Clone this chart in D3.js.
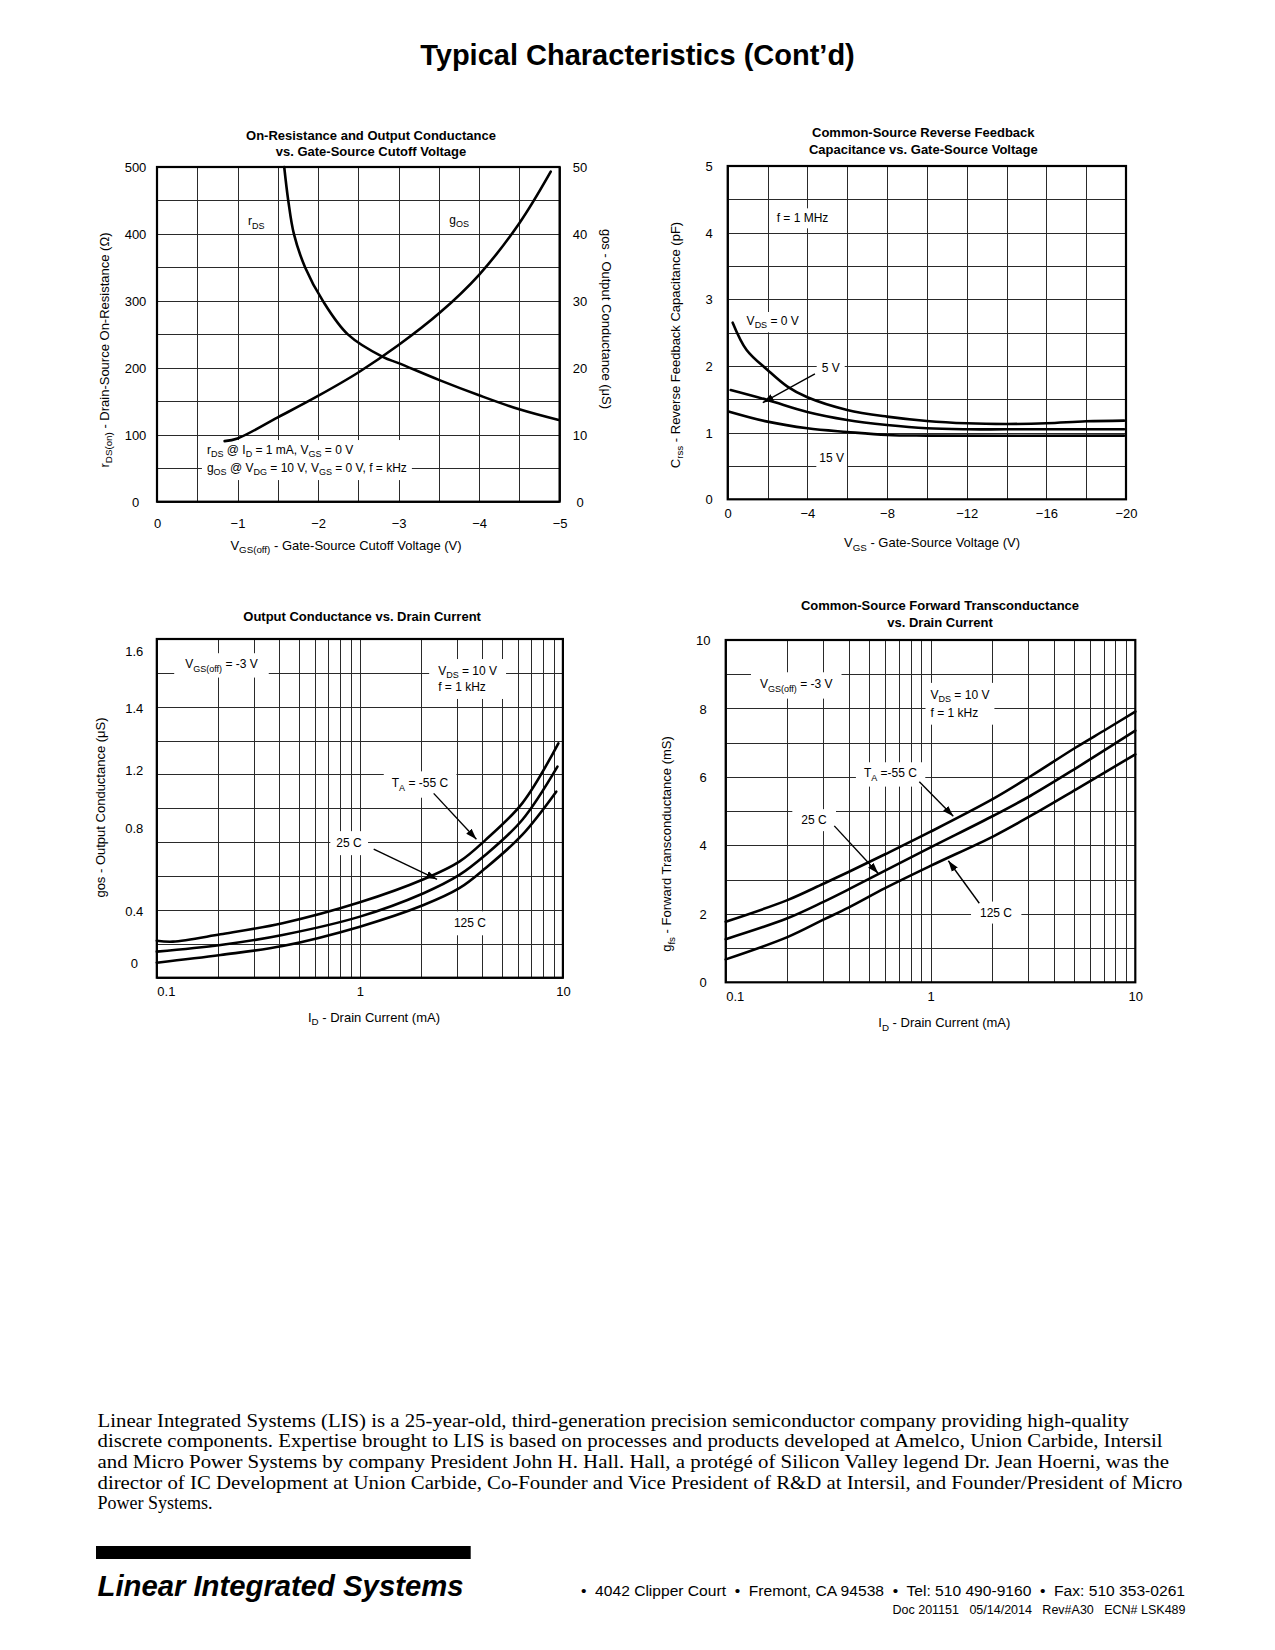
<!DOCTYPE html>
<html><head><meta charset="utf-8"><title>Typical Characteristics (Cont’d)</title>
<script src="https://cdn.jsdelivr.net/npm/d3@7"></script>
<style>html,body{margin:0;padding:0;background:#fff}svg{display:block}</style>
</head><body>
<script>
// ================= DATA =================
// Chart 1: On-Resistance and Output Conductance vs. Gate-Source Cutoff Voltage
const c1XTicks = [0, -1, -2, -3, -4, -5];
const c1LeftTicks = [0, 100, 200, 300, 400, 500];
const c1RightTicks = [0, 10, 20, 30, 40, 50];
const rdsVgsoff = [-1.58, -1.63, -1.70, -1.84, -2.06, -2.37, -2.81, -3.0, -3.5, -4.0, -4.5, -4.99];
const rdsOhms   = [500, 450, 400, 350, 300, 250, 216, 207, 182, 159, 138, 122];
const gosVgsoff = [-0.84, -1.0, -1.5, -2.0, -2.5, -3.0, -3.5, -4.0, -4.5, -4.89];
const gosMicroS = [9.05, 9.45, 12.6, 15.8, 19.3, 23.4, 28.1, 33.9, 41.6, 49.3];

// Chart 2: Common-Source Reverse Feedback Capacitance vs. Gate-Source Voltage
const c2XTicks = [0, -4, -8, -12, -16, -20];
const c2YTicks = [0, 1, 2, 3, 4, 5];
const crssVgs0V  = [-0.25, -0.95, -2, -3, -4, -6, -8, -10, -12, -14, -16, -18, -19.9];
const crss0V     = [2.65, 2.24, 1.94, 1.69, 1.53, 1.34, 1.24, 1.175, 1.14, 1.13, 1.14, 1.17, 1.18];
const crssVgs5V  = [-0.15, -2, -4, -6, -8, -10, -12, -14, -19.9];
const crss5V     = [1.64, 1.49, 1.31, 1.19, 1.115, 1.065, 1.05, 1.05, 1.05];
const crssVgs15V = [-0.08, -2, -4, -6, -8, -10, -19.9];
const crss15V    = [1.315, 1.165, 1.065, 1.01, 0.965, 0.955, 0.955];

// Chart 3: Output Conductance vs. Drain Current
const c3XTicks = [0.1, 1, 10];
const c3YTicks = [0, 0.4, 0.8, 1.2, 1.4, 1.6];
const gosIdM55  = [0.1, 0.12, 0.206, 0.416, 1.0, 2.06, 3.09, 4.15, 6.3, 9.5];
const gosM55    = [0.169, 0.162, 0.218, 0.303, 0.440, 0.551, 0.636, 0.740, 0.969, 1.286];
const gosId25   = [0.1, 0.206, 0.416, 1.0, 2.06, 3.09, 4.15, 6.3, 9.4];
const gos25     = [0.085, 0.136, 0.213, 0.354, 0.484, 0.572, 0.668, 0.853, 1.211];
const gosId125  = [0.1, 0.206, 0.416, 1.0, 2.06, 3.09, 4.15, 6.3, 9.27];
const gos125    = [0.0, 0.059, 0.128, 0.277, 0.427, 0.508, 0.604, 0.765, 1.05];

// Chart 4: Common-Source Forward Transconductance vs. Drain Current
const c4XTicks = [0.1, 1, 10];
const c4YTicks = [0, 2, 4, 6, 8, 10];
const gfsIdM55 = [0.1, 0.2, 0.3, 0.4, 0.6, 1.0, 2.05, 3.08, 5.12, 7.25, 10];
const gfsM55   = [1.77, 2.40, 2.88, 3.23, 3.74, 4.40, 5.38, 6.02, 6.86, 7.40, 7.91];
const gfsId25  = [0.1, 0.2, 0.3, 0.4, 0.6, 1.0, 2.05, 3.08, 5.12, 10];
const gfs25    = [1.26, 1.87, 2.35, 2.72, 3.26, 3.94, 4.88, 5.45, 6.25, 7.35];
const gfsId125 = [0.1, 0.2, 0.3, 0.4, 0.6, 1.0, 2.05, 3.08, 5.12, 10];
const gfs125   = [0.67, 1.32, 1.83, 2.19, 2.75, 3.40, 4.28, 4.86, 5.63, 6.66];

// Page texts
const pageTitle = "Typical Characteristics (Cont’d)";
const aboutLines = [
  "Linear Integrated Systems (LIS) is a 25-year-old, third-generation precision semiconductor company providing high-quality",
  "discrete components. Expertise brought to LIS is based on processes and products developed at Amelco, Union Carbide, Intersil",
  "and Micro Power Systems by company President John H. Hall. Hall, a protégé of Silicon Valley legend Dr. Jean Hoerni, was the",
  "director of IC Development at Union Carbide, Co-Founder and Vice President of R&D at Intersil, and Founder/President of Micro",
  "Power Systems."
];
const logoText = "Linear Integrated Systems";
const addressText = "•  4042 Clipper Court  •  Fremont, CA 94538  •  Tel: 510 490-9160  •  Fax: 510 353-0261";
const docText = "Doc 201151   05/14/2014   Rev#A30   ECN# LSK489";

// ================= DRAWING =================
const W = 1275, H = 1650;
const FONT = "'Liberation Sans', Arial, Helvetica, sans-serif";
const svg = d3.select("body").append("svg").attr("width", W).attr("height", H)
  .attr("font-family", FONT);
svg.append("rect").attr("width", W).attr("height", H).attr("fill", "#fff");

const defs = svg.append("defs");
defs.append("marker").attr("id", "arr").attr("viewBox", "0 0 12 8")
  .attr("refX", 12).attr("refY", 4).attr("markerWidth", 11).attr("markerHeight", 8)
  .attr("markerUnits", "userSpaceOnUse").attr("orient", "auto")
  .append("path").attr("d", "M0,0 L12,4 L0,8 Z").attr("fill", "#000");

function rich(g, x, y, parts, size, opts = {}) {
  const t = g.append("text").attr("x", x).attr("y", y).attr("font-size", size)
    .attr("text-anchor", opts.anchor || "start").attr("fill", "#000");
  if (opts.weight) t.attr("font-weight", opts.weight);
  if (opts.transform) t.attr("transform", opts.transform);
  let shifted = 0;
  parts.forEach(p => {
    const s = Array.isArray(p) ? p[0] : p;
    const sub = Array.isArray(p) && p[1] === "sub";
    const ts = t.append("tspan").text(s);
    const target = sub ? size * 0.28 : 0;
    if (target !== shifted) { ts.attr("dy", target - shifted); shifted = target; }
    if (sub) ts.attr("font-size", (size * 0.75).toFixed(2));
  });
  return t;
}

function withBg(bgLayer, textSel, padX = 4, padY = 1.5) {
  const nodes = Array.isArray(textSel) ? textSel : [textSel];
  let x0 = Infinity, y0 = Infinity, x1 = -Infinity, y1 = -Infinity;
  nodes.forEach(n => {
    const b = n.node().getBBox();
    x0 = Math.min(x0, b.x); y0 = Math.min(y0, b.y);
    x1 = Math.max(x1, b.x + b.width); y1 = Math.max(y1, b.y + b.height);
  });
  bgLayer.append("rect").attr("x", x0 - padX).attr("y", y0 - padY)
    .attr("width", x1 - x0 + 2 * padX).attr("height", y1 - y0 + 2 * padY).attr("fill", "#fff");
}

function layers() {
  const g = svg.append("g");
  return { grid: g.append("g"), bg: g.append("g"), curves: g.append("g"), text: g.append("g"), frame: g.append("g") };
}

function vGrid(g, vals, sx, y0, y1) {
  g.selectAll(null).data(vals).join("line")
    .attr("x1", d => Math.round(sx(d)) + 0.5).attr("x2", d => Math.round(sx(d)) + 0.5)
    .attr("y1", y0).attr("y2", y1).attr("stroke", "#2a2a2a").attr("stroke-width", 1);
}
function hGridPx(g, ys, x0, x1) {
  g.selectAll(null).data(ys).join("line")
    .attr("y1", d => Math.round(d) + 0.5).attr("y2", d => Math.round(d) + 0.5)
    .attr("x1", x0).attr("x2", x1).attr("stroke", "#2a2a2a").attr("stroke-width", 1);
}
function frame(g, x0, x1, y0, y1) {
  g.append("rect").attr("x", x0).attr("y", y0).attr("width", x1 - x0).attr("height", y1 - y0)
    .attr("fill", "none").attr("stroke", "#000").attr("stroke-width", 2.2);
}
function curve(g, xs, ys, sx, sy) {
  const pts = xs.map((x, i) => [sx(x), sy(ys[i])]);
  g.append("path").attr("d", d3.line().curve(d3.curveCatmullRom.alpha(0.5))(pts))
    .attr("fill", "none").attr("stroke", "#000").attr("stroke-width", 2.6)
    .attr("stroke-linecap", "round").attr("stroke-linejoin", "round");
}
function arrow(g, sx, sy, from, to) {
  g.append("line").attr("x1", sx(from[0])).attr("y1", sy(from[1]))
    .attr("x2", sx(to[0])).attr("y2", sy(to[1]))
    .attr("stroke", "#000").attr("stroke-width", 1.4).attr("marker-end", "url(#arr)");
}
function styleAxisText(a) {
  a.select(".domain").remove();
  a.selectAll(".tick line").remove();
  a.selectAll("text").attr("font-family", FONT).attr("font-size", 13).attr("fill", "#000");
}
function bottomAxis(g, sx, ticks, y, off, fmt, firstStart) {
  const a = g.append("g").attr("transform", `translate(0,${y})`)
    .call(d3.axisBottom(sx).tickValues(ticks).tickSize(0).tickFormat(fmt));
  styleAxisText(a);
  a.selectAll("text").attr("y", off).attr("dy", "0.35em");
  if (firstStart) a.selectAll("text").filter((d, i) => i === 0).attr("text-anchor", "start");
  return a;
}
function leftAxis(g, sy, ticks, x, off, fmt) {
  const a = g.append("g").attr("transform", `translate(${x},0)`)
    .call(d3.axisLeft(sy).tickValues(ticks).tickSize(0).tickFormat(fmt));
  styleAxisText(a);
  a.selectAll("text").attr("x", -off).attr("dy", "0.35em").attr("text-anchor", "middle");
  return a;
}
function rightAxis(g, sy, ticks, x, off, fmt) {
  const a = g.append("g").attr("transform", `translate(${x},0)`)
    .call(d3.axisRight(sy).tickValues(ticks).tickSize(0).tickFormat(fmt));
  styleAxisText(a);
  a.selectAll("text").attr("x", off).attr("dy", "0.35em").attr("text-anchor", "middle");
  return a;
}
function logGridValues() {
  const v = [];
  [0.1, 1].forEach(dec => { for (let k = 1; k <= 9; k++) v.push(+(k * dec).toFixed(3)); });
  v.push(10);
  return v;
}

// ---------- Page title ----------
svg.append("text").attr("x", 637.5).attr("y", 65).attr("text-anchor", "middle")
  .attr("font-size", 29).attr("font-weight", "bold").text(pageTitle);

// ---------- Chart 1 ----------
(function () {
  const L = layers();
  const x0 = 157, x1 = 559.6, y0 = 167, y1 = 501.7;
  const sx = d3.scaleLinear().domain([0, -5]).range([x0, x1]);
  const sy = d3.scaleLinear().domain([0, 500]).range([y1, y0]);
  const syR = d3.scaleLinear().domain([0, 50]).range([y1, y0]);
  vGrid(L.grid, d3.range(0, -5.01, -0.5), sx, y0, y1);
  hGridPx(L.grid, d3.range(0, 501, 50).map(sy), x0, x1);

  const t1 = rich(L.text, sx(-0.62), sy(71.2), ["r", ["DS", "sub"], " @ I", ["D", "sub"], " = 1 mA, V", ["GS", "sub"], " = 0 V"], 12);
  const t2 = rich(L.text, sx(-0.62), sy(44.8), ["g", ["OS", "sub"], " @ V", ["DG", "sub"], " = 10 V, V", ["GS", "sub"], " = 0 V, f = kHz"], 12);
  withBg(L.bg, [t1, t2], 5, 3);
  rich(L.text, sx(-1.13), sy(413), ["r", ["DS", "sub"]], 12);
  rich(L.text, sx(-3.63), sy(415.5), ["g", ["OS", "sub"]], 12);

  curve(L.curves, rdsVgsoff, rdsOhms, sx, sy);
  curve(L.curves, gosVgsoff, gosMicroS, sx, syR);
  frame(L.frame, x0, x1, y0, y1);

  bottomAxis(L.text, sx, c1XTicks, y1, 21.5, d => d3.format("d")(d));
  leftAxis(L.text, sy, c1LeftTicks, x0, 21.5, d3.format("d"));
  rightAxis(L.text, syR, c1RightTicks, x1, 20.5, d3.format("d"));

  rich(L.text, 371, 139.5, ["On-Resistance and Output Conductance"], 13, { anchor: "middle", weight: "bold" });
  rich(L.text, 371, 156, ["vs. Gate-Source Cutoff Voltage"], 13, { anchor: "middle", weight: "bold" });
  rich(L.text, 346, 549.5, ["V", ["GS(off)", "sub"], " - Gate-Source Cutoff Voltage (V)"], 13, { anchor: "middle" });
  rich(L.text, 0, 0, ["r", ["DS(on)", "sub"], " - Drain-Source On-Resistance (Ω)"], 13,
    { anchor: "middle", transform: "translate(108.8,350) rotate(-90)" });
  rich(L.text, 0, 0, ["gos - Output Conductance (μS)"], 13,
    { anchor: "middle", transform: "translate(602.3,319) rotate(90)" });
})();

// ---------- Chart 2 ----------
(function () {
  const L = layers();
  const x0 = 727.7, x1 = 1126, y0 = 166, y1 = 499.3;
  const sx = d3.scaleLinear().domain([0, -20]).range([x0, x1]);
  const sy = d3.scaleLinear().domain([0, 5]).range([y1, y0]);
  vGrid(L.grid, d3.range(0, -20.01, -2), sx, y0, y1);
  hGridPx(L.grid, d3.range(0, 5.01, 0.5).map(sy), x0, x1);

  withBg(L.bg, rich(L.text, sx(-2.46), sy(4.155), ["f = 1 MHz"], 12), 4, 3);
  withBg(L.bg, rich(L.text, sx(-0.95), sy(2.615), ["V", ["DS", "sub"], " = 0 V"], 12), 3, 2);
  withBg(L.bg, rich(L.text, sx(-4.72), sy(1.905), ["5 V"], 12), 5, 3);
  withBg(L.bg, rich(L.text, sx(-4.6), sy(0.555), ["15 V"], 12), 3, 3);

  curve(L.curves, crssVgs0V, crss0V, sx, sy);
  curve(L.curves, crssVgs5V, crss5V, sx, sy);
  curve(L.curves, crssVgs15V, crss15V, sx, sy);
  arrow(L.curves, sx, sy, [-4.38, 1.88], [-1.76, 1.45]);
  frame(L.frame, x0, x1, y0, y1);

  bottomAxis(L.text, sx, c2XTicks, y1, 14, d3.format("d"));
  leftAxis(L.text, sy, c2YTicks, x0, 18.5, d3.format("d"));

  rich(L.text, 923.3, 137.2, ["Common-Source Reverse Feedback"], 13, { anchor: "middle", weight: "bold" });
  rich(L.text, 923.3, 153.8, ["Capacitance vs. Gate-Source Voltage"], 13, { anchor: "middle", weight: "bold" });
  rich(L.text, 932, 547, ["V", ["GS", "sub"], " - Gate-Source Voltage (V)"], 13, { anchor: "middle" });
  rich(L.text, 0, 0, ["C", ["rss", "sub"], " - Reverse Feedback Capacitance (pF)"], 13,
    { anchor: "middle", transform: "translate(679.5,345) rotate(-90)" });
})();

// ---------- Chart 3 ----------
(function () {
  const L = layers();
  const x0 = 156.8, x1 = 562.9, y0 = 639, y1 = 977.7;
  const sx = d3.scaleLog().domain([0.1, 10]).range([x0, x1]);
  // the printed value labels are unevenly placed on the grid: piecewise-linear scale through them
  const labelFrac = [0.0443, 0.198, 0.443, 0.613, 0.797, 0.965];
  const sy = d3.scaleLinear().domain(c3YTicks).range(labelFrac.map(f => y1 - f * (y1 - y0)));
  vGrid(L.grid, logGridValues(), sx, y0, y1);
  hGridPx(L.grid, d3.range(0, 11).map(i => y1 - i * (y1 - y0) / 10), x0, x1);

  withBg(L.bg, rich(L.text, sx(0.138), sy(1.539), ["V", ["GS(off)", "sub"], " = -3 V"], 12), 11, 4);
  const a = rich(L.text, sx(2.43), sy(1.515), ["V", ["DS", "sub"], " = 10 V"], 12);
  const b = rich(L.text, sx(2.43), sy(1.459), ["f = 1 kHz"], 12);
  withBg(L.bg, [a, b], 9, 5);
  withBg(L.bg, rich(L.text, sx(1.436), sy(1.08), ["T", ["A", "sub"], " = -55 C"], 12), 8, 5);
  withBg(L.bg, rich(L.text, sx(0.766), sy(0.706), ["25 C"], 12), 6, 5);
  withBg(L.bg, rich(L.text, sx(2.905), sy(0.272), ["125 C"], 12), 3, 5);

  curve(L.curves, gosIdM55, gosM55, sx, sy);
  curve(L.curves, gosId25, gos25, sx, sy);
  curve(L.curves, gosId125, gos125, sx, sy);
  arrow(L.curves, sx, sy, [2.31, 1.038], [3.75, 0.744]);
  arrow(L.curves, sx, sy, [1.17, 0.696], [2.40, 0.551]);
  frame(L.frame, x0, x1, y0, y1);

  bottomAxis(L.text, sx, c3XTicks, y1, 14, d => String(d), true);
  leftAxis(L.text, sy, c3YTicks, x0, 22.5, d => d === 0 ? "0" : d3.format(".1f")(d));

  rich(L.text, 362.1, 621.2, ["Output Conductance vs. Drain Current"], 13, { anchor: "middle", weight: "bold" });
  rich(L.text, 374, 1021.5, ["I", ["D", "sub"], " - Drain Current (mA)"], 13, { anchor: "middle" });
  rich(L.text, 0, 0, ["gos - Output Conductance (μS)"], 13,
    { anchor: "middle", transform: "translate(104.9,807.5) rotate(-90)" });
})();

// ---------- Chart 4 ----------
(function () {
  const L = layers();
  const x0 = 725.7, x1 = 1135.3, y0 = 640, y1 = 982.3;
  const sx = d3.scaleLog().domain([0.1, 10]).range([x0, x1]);
  const sy = d3.scaleLinear().domain([0, 10]).range([y1, y0]);
  vGrid(L.grid, logGridValues(), sx, y0, y1);
  hGridPx(L.grid, d3.range(0, 10.01, 1).map(sy), x0, x1);

  withBg(L.bg, rich(L.text, sx(0.147), sy(8.59), ["V", ["GS(off)", "sub"], " = -3 V"], 12), 9, 5);
  const a = rich(L.text, sx(1.0), sy(8.28), ["V", ["DS", "sub"], " = 10 V"], 12);
  const b = rich(L.text, sx(1.0), sy(7.76), ["f = 1 kHz"], 12);
  withBg(L.bg, [a, b], 5, 5);
  withBg(L.bg, rich(L.text, sx(0.473), sy(5.99), ["T", ["A", "sub"], " =-55 C"], 12), 8, 4);
  withBg(L.bg, rich(L.text, sx(0.234), sy(4.62), ["25 C"], 12), 9, 4);
  withBg(L.bg, rich(L.text, sx(1.745), sy(1.92), ["125 C"], 12), 9, 4);

  curve(L.curves, gfsIdM55, gfsM55, sx, sy);
  curve(L.curves, gfsId25, gfs25, sx, sy);
  curve(L.curves, gfsId125, gfs125, sx, sy);
  arrow(L.curves, sx, sy, [0.882, 5.86], [1.292, 4.85]);
  arrow(L.curves, sx, sy, [0.339, 4.57], [0.556, 3.18]);
  arrow(L.curves, sx, sy, [1.731, 2.31], [1.222, 3.55]);
  frame(L.frame, x0, x1, y0, y1);

  bottomAxis(L.text, sx, c4XTicks, y1, 14, d => String(d), true);
  leftAxis(L.text, sy, c4YTicks, x0, 22.5, d3.format("d"));

  rich(L.text, 940, 609.5, ["Common-Source Forward Transconductance"], 13, { anchor: "middle", weight: "bold" });
  rich(L.text, 940, 626.8, ["vs. Drain Current"], 13, { anchor: "middle", weight: "bold" });
  rich(L.text, 944.3, 1027, ["I", ["D", "sub"], " - Drain Current (mA)"], 13, { anchor: "middle" });
  rich(L.text, 0, 0, ["g", ["fs", "sub"], " - Forward Transconductance (mS)"], 13,
    { anchor: "middle", transform: "translate(671.2,844) rotate(-90)" });
})();

// ---------- Footer ----------
(function () {
  const g = svg.append("g");
  const baselines = [1426.7, 1447.3, 1468.3, 1489, 1509.3];
  const widths = [1031.5, 1065, 1071.5, 1085, null];
  aboutLines.forEach((s, i) => {
    const t = g.append("text").attr("x", 97.5).attr("y", baselines[i])
      .attr("font-family", "'Liberation Serif', 'Times New Roman', serif").attr("font-size", 18)
      .attr("fill", "#000").text(s);
    if (widths[i]) t.attr("textLength", widths[i]).attr("lengthAdjust", "spacingAndGlyphs");
  });
  g.append("rect").attr("x", 96).attr("y", 1546).attr("width", 374.7).attr("height", 13).attr("fill", "#000");
  g.append("text").attr("x", 97.5).attr("y", 1596).attr("font-size", 29.5).attr("font-weight", "bold")
    .attr("font-style", "italic").attr("textLength", 366).attr("lengthAdjust", "spacingAndGlyphs")
    .attr("fill", "#000").text(logoText);
  g.append("text").attr("x", 581).attr("y", 1596).attr("font-size", 15.5)
    .attr("textLength", 604).attr("lengthAdjust", "spacingAndGlyphs")
    .style("white-space", "pre").attr("fill", "#000").text(addressText);
  g.append("text").attr("x", 892.5).attr("y", 1613.5).attr("font-size", 12)
    .attr("textLength", 293).attr("lengthAdjust", "spacingAndGlyphs")
    .style("white-space", "pre").attr("fill", "#000").text(docText);
})();
</script>
</body></html>
